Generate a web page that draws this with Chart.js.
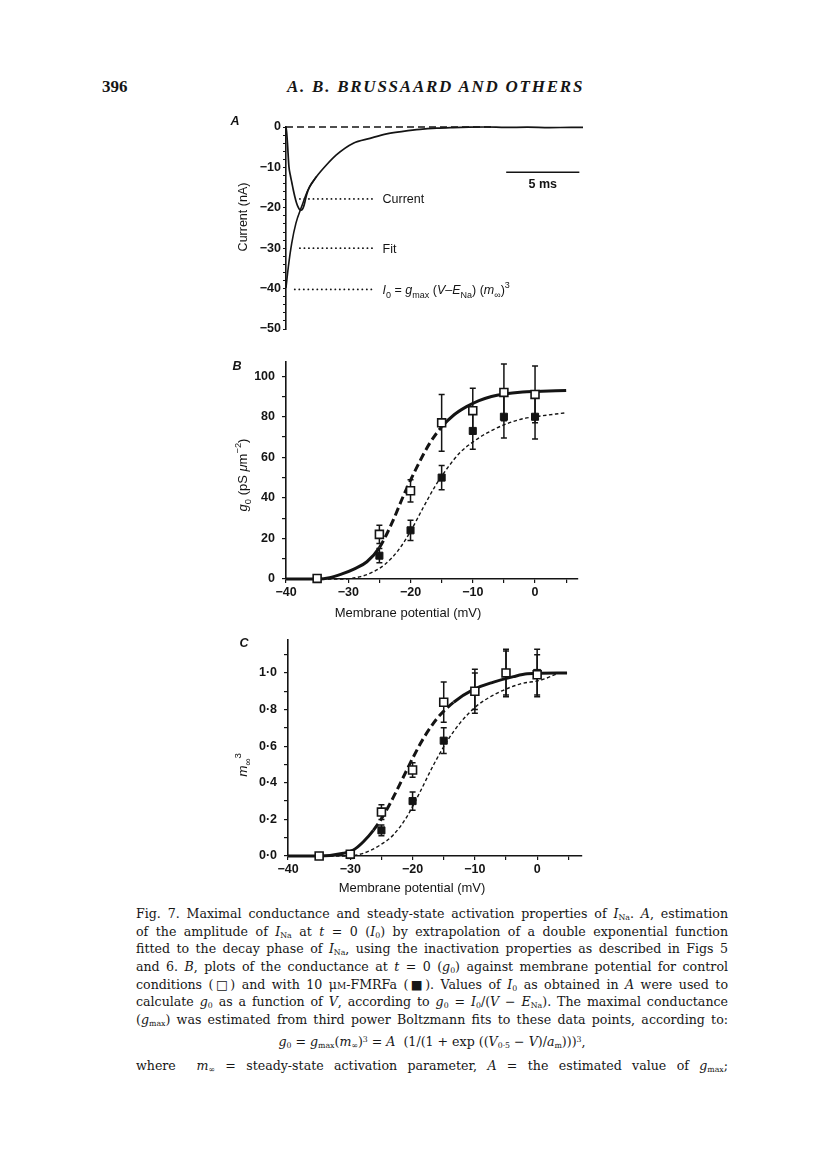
<!DOCTYPE html>
<html>
<head>
<meta charset="utf-8">
<title>Fig. 7 - Brussaard et al.</title>
<script src="https://cdn.jsdelivr.net/npm/chart.js@4.4.1/dist/chart.umd.min.js"></script>
<style>
  html, body { margin: 0; padding: 0; background: #fff; }
  body { width: 816px; height: 1169px; position: relative; overflow: hidden; color: #161616; }
  canvas { position: absolute; }
  .txt { position: absolute; font-family: "DejaVu Serif", "Liberation Serif", serif; white-space: nowrap; }
  .line { left: 136px; width: 592px; height: 18px; line-height: 18px; font-size: 12.6px;
          text-align: justify; text-align-last: justify; }
  .line sub { font-size: 0.62em; vertical-align: -0.3em; line-height: 0; }
  .line sup { font-size: 0.62em; vertical-align: 0.55em; line-height: 0; }
  .sc { font-variant: small-caps; }
  .head { font-family: "Liberation Serif", serif; font-size: 17px; font-weight: bold; }
</style>
</head>
<body>

<div class="txt head" style="left:102px; top:77px;">396</div>
<div class="txt head" style="left:287px; top:77px; font-style:italic; letter-spacing:1.75px;">A. B. BRUSSAARD AND OTHERS</div>

<canvas id="chartA" width="380" height="240" style="left:220px; top:100px;"></canvas>
<canvas id="chartB" width="380" height="285" style="left:220px; top:345px;"></canvas>
<canvas id="chartC" width="380" height="280" style="left:220px; top:625px;"></canvas>

<div class="txt line" style="top:905px;">Fig. 7. Maximal conductance and steady-state activation properties of <i>I</i><sub>Na</sub>. <i>A</i>, estimation</div>
<div class="txt line" style="top:923px;">of the amplitude of <i>I</i><sub>Na</sub> at <i>t</i> = 0 (<i>I</i><sub>0</sub>) by extrapolation of a double exponential function</div>
<div class="txt line" style="top:940px;">fitted to the decay phase of <i>I</i><sub>Na</sub>, using the inactivation properties as described in Figs 5</div>
<div class="txt line" style="top:958px;">and 6. <i>B</i>, plots of the conductance at <i>t</i> = 0 (<i>g</i><sub>0</sub>) against membrane potential for control</div>
<div class="txt line" style="top:976px;">conditions (□) and with 10 μ<span class="sc">m</span>-FMRFa (■). Values of <i>I</i><sub>0</sub> as obtained in <i>A</i> were used to</div>
<div class="txt line" style="top:993px;">calculate <i>g</i><sub>0</sub> as a function of <i>V</i>, according to <i>g</i><sub>0</sub> = <i>I</i><sub>0</sub>/(<i>V</i> − <i>E</i><sub>Na</sub>). The maximal conductance</div>
<div class="txt line" style="top:1011px;">(<i>g</i><sub>max</sub>) was estimated from third power Boltzmann fits to these data points, according to:</div>
<div class="txt line" style="top:1033px; text-align:center; text-align-last:center;"><i>g</i><sub>0</sub> = <i>g</i><sub>max</sub>(<i>m</i><sub>∞</sub>)<sup>3</sup> = <i>A</i>&nbsp; (1/(1 + exp ((<i>V</i><sub>0·5</sub> − <i>V</i>)/<i>a</i><sub>m</sub>)))<sup>3</sup>,</div>
<div class="txt line" style="top:1057px;">where &nbsp;<i>m</i><sub>∞</sub> = steady-state activation parameter, <i>A</i> = the estimated value of <i>g</i><sub>max</sub>;</div>

<script>
const INK = '#141414';
const SANS = '"Liberation Sans", Arial, Helvetica, sans-serif';

// ---- panel A: current trace and fit (time in ms, current in nA)
const aCurrentTime = [0, 0.05, 0.1, 0.2, 0.3, 0.4, 0.5, 0.6, 0.72, 0.84, 0.95, 1.05, 1.15, 1.25, 1.4, 1.6, 2.08, 2.76, 3.44, 4.6, 5.74, 6.88, 8.0, 9.16, 10.3, 11.4, 12.5, 13.7, 15, 16.5, 18, 19.5, 20.3];
const aCurrent = [0, -1.5, -4, -9.8, -12, -13.8, -15.6, -17.2, -18.8, -19.9, -20.5, -20.6, -20.2, -19.2, -16.9, -14.9, -12.3, -9.4, -6.9, -4.0, -2.8, -1.7, -1.1, -0.6, -0.3, -0.15, -0.05, 0, -0.1, -0.05, -0.15, -0.1, -0.1];
const aFitTime = [0, 0.16, 0.39, 0.68, 1.07, 1.5, 2.08];
const aFit = [-39.8, -34.6, -28.8, -23.8, -19.7, -15.6, -12.3];
const aZeroTime = [0, 14.2];
const aZero = [0, 0];
const aLeaderLevel = [-17.8, -30, -40.2];
const aLeaderStart = [0.95, 0.95, 0.6];
const aLeaderEnd = 5.95;
const aLabelTime = 6.6;
const aScaleBarTime = [15.05, 20.05];
const aScaleBarLevel = -11.2;
const aScaleLabelLevel = -13.9;

// ---- panel B: g0 (pS um-2) vs membrane potential (mV)
const bVoltage = [-35, -25, -20, -15, -10, -5, 0];
const bControl = [0.3, 22, 43.5, 77, 83, 92, 91];
const bControlErr = [0, 4.5, 5.5, 14, 11, 14, 14];
const bFmrfa = [0, 11.5, 24, 50, 73, 80, 80];
const bFmrfaErr = [0, 3.5, 5, 6, 9, 10.5, 11];
const bControlFitV = [-40, -35, -33, -31, -29, -27, -25, -23, -21, -19, -17, -15, -13, -11, -9, -7, -5, -2, 0, 5];
const bControlFit = [0, 0, 0.6, 2.5, 5, 8.5, 15.5, 27.5, 42, 55, 66.5, 75, 81, 85, 88, 90, 91.2, 92.2, 92.5, 93];
const bFmrfaFitV = [-40, -30.8, -28, -26, -24, -22, -20, -18, -16, -14, -12, -10, -8, -5, -2, 0, 5];
const bFmrfaFit = [0, 0, 1.2, 3.5, 7.5, 14, 23.5, 35, 46, 55, 62.5, 67.5, 71.5, 76, 79, 80, 82];

// ---- panel C: m_inf^3 vs membrane potential (mV)
const cVoltage = [-35, -30, -25, -20, -15, -10, -5, 0];
const cControl = [0, 0.01, 0.24, 0.47, 0.84, 0.90, 1.0, 0.99];
const cControlErr = [0, 0, 0.04, 0.04, 0.11, 0.12, 0.12, 0.11];
const cFmrfa = [0, 0.005, 0.14, 0.30, 0.63, 0.90, 1.0, 1.0];
const cFmrfaErr = [0, 0, 0.03, 0.05, 0.07, 0.10, 0.13, 0.13];
const cControlFitV = [-40, -35, -31.1, -29.5, -27.9, -26.3, -24.7, -23.1, -21.5, -19.9, -18.3, -16.1, -13.4, -10.2, -7.0, -3.8, -1.6, 4.8];
const cControlFit = [0, 0, 0.015, 0.033, 0.078, 0.14, 0.22, 0.32, 0.43, 0.54, 0.64, 0.75, 0.84, 0.91, 0.95, 0.98, 0.995, 1.0];
const cFmrfaFitV = [-40, -30.6, -27.9, -25.2, -23.1, -20.9, -18.8, -16.6, -14.5, -12.3, -9.7, -6.4, -2.7, 0.5, 3.2];
const cFmrfaFit = [0, 0, 0.015, 0.06, 0.115, 0.215, 0.35, 0.5, 0.625, 0.73, 0.82, 0.89, 0.94, 0.96, 0.995];

const pairs = (xs, ys) => xs.map((x, i) => ({ x, y: ys[i] }));
const minus = v => (v < 0 ? '\u2212' + Math.abs(v) : String(v));

// draws text made of pieces (italic, subscript, superscript) centred on x,y
function drawRich(ctx, parts, x, y, size, opts = {}) {
  const weight = opts.weight || 'normal';
  ctx.save();
  ctx.translate(x, y);
  if (opts.rotate) ctx.rotate(opts.rotate);
  ctx.fillStyle = INK;
  ctx.textBaseline = 'alphabetic';
  const fontFor = p => {
    const s = (p.sub || p.sup) ? size * 0.72 : size;
    return (p.it ? 'italic ' : '') + weight + ' ' + s + 'px ' + SANS;
  };
  let w = 0;
  for (const p of parts) { ctx.font = fontFor(p); w += ctx.measureText(p.t).width; }
  let cx = opts.align === 'left' ? 0 : -w / 2;
  for (const p of parts) {
    ctx.font = fontFor(p);
    const dy = p.sub ? size * 0.3 : p.sup ? -size * 0.45 : 0;
    ctx.fillText(p.t, cx, size * 0.36 + dy);
    cx += ctx.measureText(p.t).width;
  }
  ctx.restore();
}

// error bars drawn just before each point dataset
const errorBars = {
  id: 'errorBars',
  beforeDatasetDraw(chart, args) {
    const ds = chart.data.datasets[args.index];
    if (!ds.errorBars) return;
    const ctx = chart.ctx, ys = chart.scales.y;
    ctx.save();
    ctx.strokeStyle = INK;
    ctx.lineWidth = 1.5;
    args.meta.data.forEach((pt, i) => {
      const e = ds.errorBars[i];
      if (!e) return;
      const v = ds.data[i].y;
      const top = ys.getPixelForValue(v + e), bot = ys.getPixelForValue(v - e);
      ctx.beginPath();
      ctx.moveTo(pt.x, top); ctx.lineTo(pt.x, bot);
      ctx.moveTo(pt.x - 3, top); ctx.lineTo(pt.x + 3, top);
      ctx.moveTo(pt.x - 3, bot); ctx.lineTo(pt.x + 3, bot);
      ctx.stroke();
    });
    ctx.restore();
  }
};

const midDash = (lo, hi) => c => {
  const x = c.p0.parsed.x;
  return x >= lo && x < hi ? [8, 4] : undefined;
};

const tickFont = { family: SANS, size: 12.5, weight: 'bold' };
const baseOptions = (padding) => ({
  responsive: false,
  animation: false,
  events: [],
  devicePixelRatio: 1,
  layout: { padding },
  plugins: { legend: { display: false }, tooltip: { enabled: false } }
});

function voltageAxis(max, height) {
  return {
    type: 'linear', min: -40, max,
    afterFit: s => { s.height = height; },
    grid: { drawOnChartArea: false, tickLength: 4, color: INK, lineWidth: 1.2 },
    border: { color: INK, width: 1.6 },
    ticks: {
      stepSize: 5, autoSkip: false, includeBounds: false, maxRotation: 0, padding: 2,
      color: INK, font: tickFont,
      callback: v => (Math.round(v) % 10 === 0 ? minus(Math.round(v)) : '')
    }
  };
}

function curveSet(xs, ys, thick, dashRange) {
  const ds = {
    data: pairs(xs, ys), borderColor: INK, pointRadius: 0, fill: false,
    cubicInterpolationMode: 'monotone', clip: 4, order: 3
  };
  if (thick) {
    ds.borderWidth = 3;
    ds.segment = { borderDash: midDash(dashRange[0], dashRange[1]) };
  } else {
    ds.borderWidth = 1.4;
    ds.borderDash = [3.5, 2.5];
  }
  return ds;
}

function pointSet(xs, ys, errs, open) {
  return {
    data: pairs(xs, ys), showLine: false, errorBars: errs,
    pointStyle: 'rect', pointRadius: open ? 5.6 : 5,
    pointBackgroundColor: open ? '#fff' : INK, pointBorderColor: INK,
    pointBorderWidth: open ? 1.6 : 1, clip: 8, order: open ? 1 : 2
  };
}

// ---------------- panel A
new Chart(document.getElementById('chartA'), {
  type: 'line',
  data: {
    datasets: [
      { data: pairs(aFitTime, aFit), borderColor: INK, borderWidth: 1.6, pointRadius: 0, cubicInterpolationMode: 'monotone', clip: 4 },
      { data: pairs(aCurrentTime, aCurrent), borderColor: INK, borderWidth: 1.7, pointRadius: 0, cubicInterpolationMode: 'monotone', clip: 4 },
      { data: pairs(aZeroTime, aZero), borderColor: INK, borderWidth: 1.3, borderDash: [7, 4], pointRadius: 0, clip: 4 },
      { data: pairs(aScaleBarTime, [aScaleBarLevel, aScaleBarLevel]), borderColor: INK, borderWidth: 1.5, pointRadius: 0 },
      ...aLeaderLevel.map((lvl, i) => ({
        data: pairs([aLeaderStart[i], aLeaderEnd], [lvl, lvl]), borderColor: INK, borderWidth: 1.8,
        borderDash: [0.1, 4.4], borderCapStyle: 'round', pointRadius: 0
      }))
    ]
  },
  options: Object.assign(baseOptions({ top: 27, right: 17, bottom: 11, left: 0 }), {
    scales: {
      x: { type: 'linear', min: 0, max: 20.3, display: false },
      y: {
        min: -50, max: 0,
        afterFit: s => { s.width = 66; },
        grid: { drawOnChartArea: false, tickLength: 3, color: INK, lineWidth: 1 },
        border: { color: INK, width: 1.6 },
        ticks: {
          stepSize: 2, autoSkip: false, includeBounds: false, padding: 2, color: INK, font: tickFont,
          callback: v => (Math.round(v) % 10 === 0 ? minus(Math.round(v)) : '')
        }
      }
    }
  }),
  plugins: [{
    id: 'textA',
    afterDraw(chart) {
      const ctx = chart.ctx, xs = chart.scales.x, ys = chart.scales.y;
      const lx = xs.getPixelForValue(aLabelTime);
      drawRich(ctx, [{ t: 'A', it: true }], 15, 20, 12.5, { weight: 'bold' });
      drawRich(ctx, [{ t: 'Current (nA)' }], 22, 117, 12.5, { rotate: -Math.PI / 2 });
      drawRich(ctx, [{ t: 'Current' }], lx, ys.getPixelForValue(aLeaderLevel[0]), 12.5, { align: 'left' });
      drawRich(ctx, [{ t: 'Fit' }], lx, ys.getPixelForValue(aLeaderLevel[1]), 12.5, { align: 'left' });
      drawRich(ctx, [
        { t: 'I', it: true }, { t: '0', sub: true }, { t: ' = ' }, { t: 'g', it: true }, { t: 'max', sub: true },
        { t: ' (' }, { t: 'V', it: true }, { t: '\u2013' }, { t: 'E', it: true }, { t: 'Na', sub: true },
        { t: ') (' }, { t: 'm', it: true }, { t: '\u221e', sub: true }, { t: ')' }, { t: '3', sup: true }
      ], lx, ys.getPixelForValue(aLeaderLevel[2]), 12.5, { align: 'left' });
      const bx = (xs.getPixelForValue(aScaleBarTime[0]) + xs.getPixelForValue(aScaleBarTime[1])) / 2;
      drawRich(ctx, [{ t: '5 ms' }], bx, ys.getPixelForValue(aScaleLabelLevel), 12.5, { weight: 'bold' });
    }
  }]
});

// ---------------- panel B
new Chart(document.getElementById('chartB'), {
  type: 'line',
  data: {
    datasets: [
      curveSet(bControlFitV, bControlFit, true, [-25, -15]),
      curveSet(bFmrfaFitV, bFmrfaFit, false),
      pointSet(bVoltage, bFmrfa, bFmrfaErr, false),
      pointSet(bVoltage, bControl, bControlErr, true)
    ]
  },
  options: Object.assign(baseOptions({ top: 17, right: 22, bottom: 0, left: 0 }), {
    scales: {
      x: voltageAxis(6.9, 51),
      y: {
        min: 0, max: 107,
        afterFit: s => { s.width = 66; },
        grid: { drawOnChartArea: false, tickLength: 4, color: INK, lineWidth: 1.2 },
        border: { color: INK, width: 1.6 },
        ticks: {
          stepSize: 10, autoSkip: false, includeBounds: false, padding: 7, color: INK, font: tickFont,
          callback: v => (Math.round(v) % 20 === 0 ? String(Math.round(v)) : '')
        }
      }
    }
  }),
  plugins: [errorBars, {
    id: 'textB',
    afterDraw(chart) {
      const ctx = chart.ctx;
      drawRich(ctx, [{ t: 'B', it: true }], 17, 20, 12.5, { weight: 'bold' });
      drawRich(ctx, [{ t: 'Membrane potential (mV)' }], 188, 267, 13);
      drawRich(ctx, [
        { t: 'g', it: true }, { t: '0', sub: true }, { t: ' (pS ' }, { t: '\u03bc', it: true }, { t: 'm' },
        { t: '\u22122', sup: true }, { t: ')' }
      ], 22, 130, 13, { rotate: -Math.PI / 2 });
    }
  }]
});

// ---------------- panel C
new Chart(document.getElementById('chartC'), {
  type: 'line',
  data: {
    datasets: [
      curveSet(cControlFitV, cControlFit, true, [-26.5, -14]),
      curveSet(cFmrfaFitV, cFmrfaFit, false),
      pointSet(cVoltage, cFmrfa, cFmrfaErr, false),
      pointSet(cVoltage, cControl, cControlErr, true)
    ]
  },
  options: Object.assign(baseOptions({ top: 15, right: 18, bottom: 0, left: 0 }), {
    scales: {
      x: voltageAxis(7.2, 49),
      y: {
        min: 0, max: 1.18,
        afterFit: s => { s.width = 68; },
        grid: { drawOnChartArea: false, tickLength: 4, color: INK, lineWidth: 1.2 },
        border: { color: INK, width: 1.6 },
        ticks: {
          stepSize: 0.1, autoSkip: false, includeBounds: false, padding: 7, color: INK, font: tickFont,
          callback: v => (Math.round(v * 10) % 2 === 0 ? v.toFixed(1).replace('.', '\u00b7') : '')
        }
      }
    }
  }),
  plugins: [errorBars, {
    id: 'textC',
    afterDraw(chart) {
      const ctx = chart.ctx;
      drawRich(ctx, [{ t: 'C', it: true }], 24, 17, 12.5, { weight: 'bold' });
      drawRich(ctx, [{ t: 'Membrane potential (mV)' }], 192, 262, 13);
      drawRich(ctx, [{ t: 'm', it: true }, { t: '\u221e', sub: true }, { t: '3', sup: true }], 22, 140, 13.5,
        { rotate: -Math.PI / 2 });
    }
  }]
});
</script>
</body>
</html>
